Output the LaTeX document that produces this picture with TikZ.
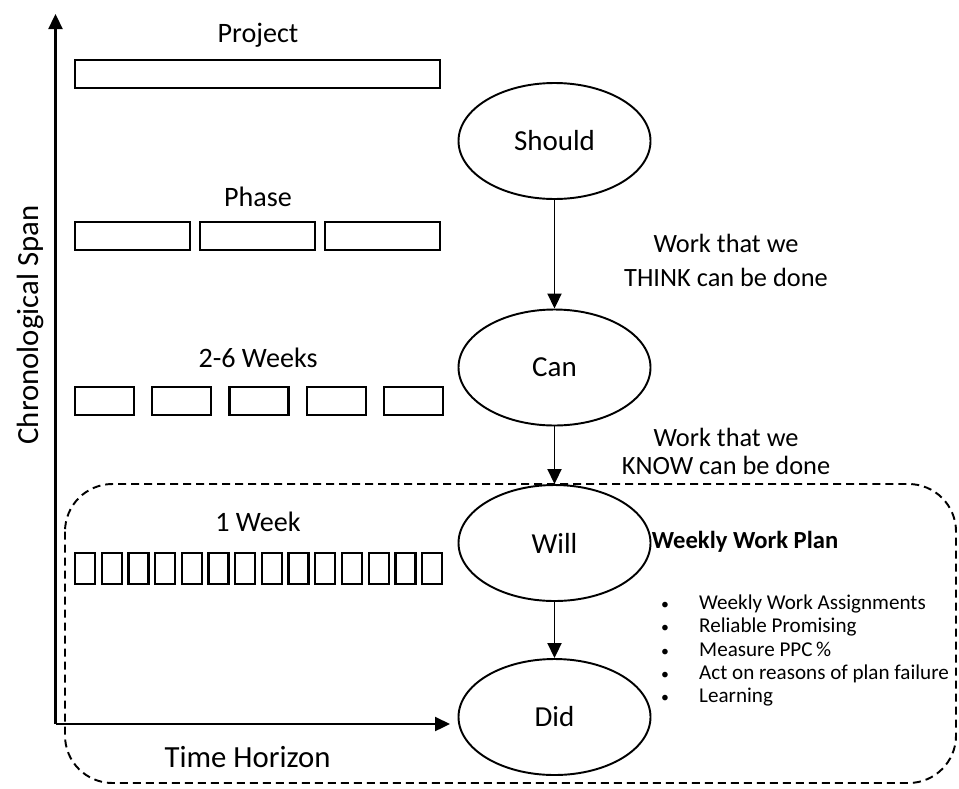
\documentclass[tikz,border=0pt]{standalone}
\usepackage{fontspec}
\setmainfont{Carlito}
\usetikzlibrary{shapes.geometric,arrows.meta}

\tikzset{
  blk/.style={draw=black, line width=1.3pt, inner sep=0pt, outer sep=0pt},
  stage/.style={shape=ellipse, draw=black, line width=1.1pt, minimum width=3.84cm, minimum height=2.32cm, font=\fontsize{16.5}{19.8}\selectfont},
  flow/.style={-{Triangle[length=0.3cm,width=0.28cm]}, line width=1.1pt},
  lbl/.style={font=\fontsize{16}{19.2}\selectfont},
  axislbl/.style={font=\fontsize{17.5}{21}\selectfont},
}
\newcommand{\dotitem}{\makebox[0.76cm][l]{\scalebox{0.75}{\textbullet}}}

\begin{document}
\begin{tikzpicture}[font=\fontsize{15}{19.3}\selectfont]
    \useasboundingbox (0,0) rectangle (19.18,-15.76);
    % axes
    \coordinate (O) at (1.11,-14.48);
    \coordinate (Ytop) at (1.11,-0.28);
    \coordinate (Xend) at (9.0,-14.48);
    \draw[flow, line width=1.3pt] (O) -- (Ytop);
    \draw[flow, line width=1.3pt] (O) -- (Xend);
    \node[axislbl, rotate=90] (span) at (0.6,-6.5) {Chronological Span};
    \node[axislbl] (horizon) at (4.95,-15.14) {Time Horizon};
    % project
    \node[lbl] (project) at (5.16,-0.7) {Project};
    \node[blk, minimum width=7.3cm, minimum height=0.56cm, anchor=north west] (proj) at (1.5,-1.2) {};
    % phase
    \node[lbl] (phase) at (5.16,-3.94) {Phase};
    \foreach \i in {0,1,2}
      \node[blk, minimum width=2.3cm, minimum height=0.56cm, anchor=north west] (ph\i) at (1.5+2.5*\i,-4.44) {};
    % 2-6 weeks
    \node[lbl] (weeks) at (5.16,-7.16) {2-6 Weeks};
    \foreach \i in {0,...,4}
      \node[blk, minimum width=1.18cm, minimum height=0.56cm, anchor=north west] (wk\i) at (1.5+1.545*\i,-7.74) {};
    % 1 week
    \node[lbl] (week) at (5.16,-10.44) {1 Week};
    \foreach \i in {0,...,13}
      \node[blk, minimum width=0.4cm, minimum height=0.62cm, anchor=north west] (dy\i) at (1.5+0.534*\i,-11.06) {};
    % stages
    \node[stage] (should) at (11.09,-2.82) {Should};
    \node[stage] (can) at (11.09,-7.35) {Can};
    \node[stage] (will) at (11.09,-10.86) {Will};
    \node[stage] (did) at (11.09,-14.34) {Did};
    \draw[flow] (should) -- (can);
    \draw[flow] (can) -- (will);
    \draw[flow] (will) -- (did);
    \node[align=center] (think) at (14.52,-5.2) {Work that we\\THINK can be done};
    \node[align=center] (know) at (14.52,-9.03) {Work that we\\[-2.9pt]KNOW can be done};
    \node[font=\fontsize{14}{16.8}\selectfont\bfseries] (plan) at (14.9,-10.84) {Weekly Work Plan};
    \node[align=left, anchor=west, font=\fontsize{12}{13.2}\selectfont] (tasks) at (13.1,-13.01) {%
      \dotitem Weekly Work Assignments\\
      \dotitem Reliable Promising\\
      \dotitem Measure PPC\,\%\\
      \dotitem Act on reasons of plan failure\\
      \dotitem Learning};
    % dashed frame
    \draw[dash pattern=on 0.16cm off 0.1cm, line width=1.1pt, rounded corners=0.95cm] (1.3,-9.68) rectangle (19.12,-15.66);
\end{tikzpicture}
\end{document}
